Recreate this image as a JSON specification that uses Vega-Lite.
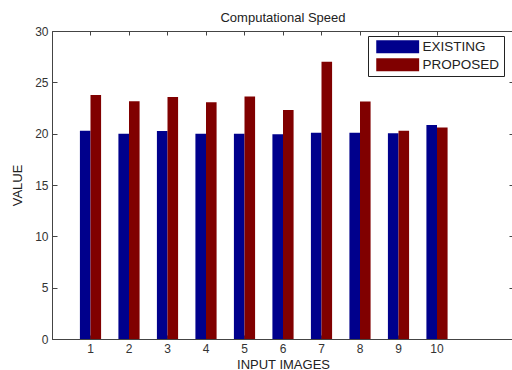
{
  "$schema": "https://vega.github.io/schema/vega-lite/v6.json",
  "width": 462,
  "height": 308,
  "autosize": {"type": "none"},
  "padding": {"left": 52, "top": 31, "right": 0, "bottom": 31},
  "background": "white",
  "title": {"text": "Computational Speed", "fontSize": 13, "fontWeight": "normal", "font": "Liberation Sans", "color": "#222222", "anchor": "middle", "offset": 0},
  "config": {
    "view": {"stroke": "#444444", "strokeWidth": 1},
    "axis": {"domainColor": "#444444", "tickColor": "#444444", "labelColor": "#333333", "labelFont": "Liberation Sans", "labelFontSize": 12, "titleFont": "Liberation Sans", "titleFontSize": 13, "titleFontWeight": "normal", "titleColor": "#222222", "grid": false}
  },
  "data": {"values": [
    {"image": 1, "method": "EXISTING", "value": 20.28},
    {"image": 2, "method": "EXISTING", "value": 20.0},
    {"image": 3, "method": "EXISTING", "value": 20.25},
    {"image": 4, "method": "EXISTING", "value": 20.0},
    {"image": 5, "method": "EXISTING", "value": 20.0},
    {"image": 6, "method": "EXISTING", "value": 19.95},
    {"image": 7, "method": "EXISTING", "value": 20.1},
    {"image": 8, "method": "EXISTING", "value": 20.1},
    {"image": 9, "method": "EXISTING", "value": 20.05},
    {"image": 10, "method": "EXISTING", "value": 20.85},
    {"image": 1, "method": "PROPOSED", "value": 23.76},
    {"image": 2, "method": "PROPOSED", "value": 23.15},
    {"image": 3, "method": "PROPOSED", "value": 23.56},
    {"image": 4, "method": "PROPOSED", "value": 23.07},
    {"image": 5, "method": "PROPOSED", "value": 23.63},
    {"image": 6, "method": "PROPOSED", "value": 22.3},
    {"image": 7, "method": "PROPOSED", "value": 27.0},
    {"image": 8, "method": "PROPOSED", "value": 23.14},
    {"image": 9, "method": "PROPOSED", "value": 20.28},
    {"image": 10, "method": "PROPOSED", "value": 20.6}
  ]},
  "layer": [
    {
      "mark": {"type": "bar"},
      "encoding": {
        "x": {"field": "image", "type": "ordinal",
          "scale": {"domain": [1, 2, 3, 4, 5, 6, 7, 8, 9, 10, 11], "paddingInner": 0.45, "paddingOuter": 0.725},
          "axis": {"values": [1, 2, 3, 4, 5, 6, 7, 8, 9, 10], "labelAngle": 0, "tickSize": -4, "labelPadding": 8, "title": "INPUT IMAGES", "titlePadding": 4}},
        "xOffset": {"field": "method", "type": "nominal", "scale": {"paddingInner": 0, "paddingOuter": 0}},
        "y": {"field": "value", "type": "quantitative",
          "scale": {"domain": [0, 30], "nice": false},
          "axis": {"values": [0, 5, 10, 15, 20, 25, 30], "tickSize": -5, "labelPadding": 9, "title": "VALUE", "titlePadding": 10}},
        "color": {"field": "method", "type": "nominal",
          "scale": {"domain": ["EXISTING", "PROPOSED"], "range": ["#00008C", "#800000"]},
          "legend": {"orient": "none", "legendX": 316, "legendY": 5, "title": null,
            "symbolType": "M-1,-1H5.6V1H-1Z", "symbolSize": 169, "symbolStrokeWidth": 0, "symbolOpacity": 1, "symbolOffset": 4,
            "labelFont": "Liberation Sans", "labelFontSize": 13.5, "labelColor": "#222222", "labelOffset": 33,
            "padding": 4, "rowPadding": 3, "strokeColor": "#222222", "fillColor": "white"}}
      }
    },
    {
      "mark": {"type": "tick", "opacity": 0},
      "encoding": {
        "x": {"field": "image", "type": "ordinal",
          "axis": {"orient": "top", "values": [1, 2, 3, 4, 5, 6, 7, 8, 9, 10], "labels": false, "tickSize": -4, "title": null, "domain": false}},
        "y": {"field": "value", "type": "quantitative",
          "axis": {"orient": "right", "values": [0, 5, 10, 15, 20, 25, 30], "labels": false, "tickSize": -5, "title": null, "domain": false}}
      }
    }
  ],
  "resolve": {"axis": {"x": "independent", "y": "independent"}}
}
